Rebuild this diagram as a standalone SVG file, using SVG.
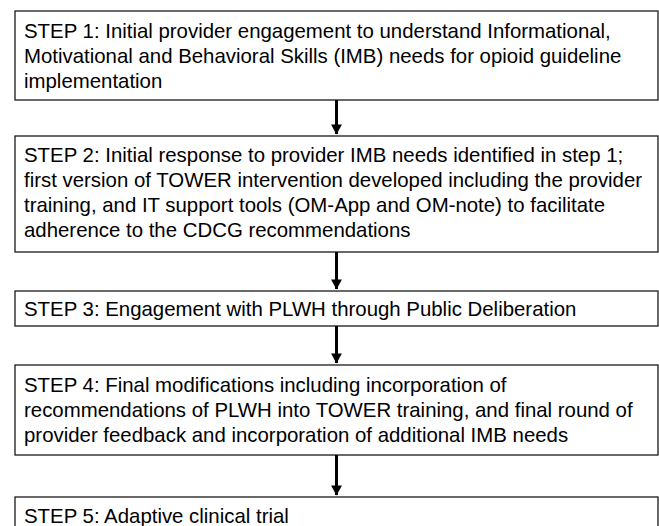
<svg xmlns="http://www.w3.org/2000/svg" width="659" height="526" viewBox="0 0 659 526">
<defs>
<style>
.box{fill:#fff;stroke:#1a1a1a;stroke-width:1.3}
.t{font-family:"Liberation Sans",Arial,sans-serif;font-size:20.4px;fill:#000}
.c{stroke:#000;stroke-width:3;fill:none}
</style>
<marker id="ah" markerWidth="4" markerHeight="4" refX="3.2" refY="2" orient="auto" markerUnits="strokeWidth" viewBox="0 0 4 4">
<path d="M0,0.2 L3.4,2 L0,3.8 Z" fill="#000"/>
</marker>
</defs>
<rect width="659" height="526" fill="#fff"/>
<g id="step1">
<rect class="box" x="15" y="11" width="643" height="89"/>
<text class="t" x="24" y="38">STEP 1: Initial provider engagement to understand Informational,</text>
<text class="t" x="24" y="63">Motivational and Behavioral Skills (IMB) needs for opioid guideline</text>
<text class="t" x="24" y="88">implementation</text>
</g>
<g id="step2">
<rect class="box" x="15" y="136" width="643" height="116"/>
<text class="t" x="24" y="162">STEP 2: Initial response to provider IMB needs identified in step 1;</text>
<text class="t" x="24" y="187">first version of TOWER intervention developed including the provider</text>
<text class="t" x="24" y="212">training, and IT support tools (OM-App and OM-note) to facilitate</text>
<text class="t" x="24" y="237">adherence to the CDCG recommendations</text>
</g>
<g id="step3">
<rect class="box" x="15" y="291" width="643" height="35"/>
<text class="t" x="24" y="316">STEP 3: Engagement with PLWH through Public Deliberation</text>
</g>
<g id="step4">
<rect class="box" x="15" y="365" width="643" height="90"/>
<text class="t" x="24" y="392">STEP 4: Final modifications including incorporation of</text>
<text class="t" x="24" y="417">recommendations of PLWH into TOWER training, and final round of</text>
<text class="t" x="24" y="442">provider feedback and incorporation of additional IMB needs</text>
</g>
<g id="step5">
<rect class="box" x="15" y="497" width="643" height="40"/>
<text class="t" x="24" y="523">STEP 5: Adaptive clinical trial</text>
</g>
<g id="connectors">
<line class="c" x1="336.5" y1="100" x2="336.5" y2="134" marker-end="url(#ah)"/>
<line class="c" x1="336.5" y1="252" x2="336.5" y2="289" marker-end="url(#ah)"/>
<line class="c" x1="336.5" y1="326" x2="336.5" y2="363" marker-end="url(#ah)"/>
<line class="c" x1="336.5" y1="455" x2="336.5" y2="495" marker-end="url(#ah)"/>
</g>
</svg>
